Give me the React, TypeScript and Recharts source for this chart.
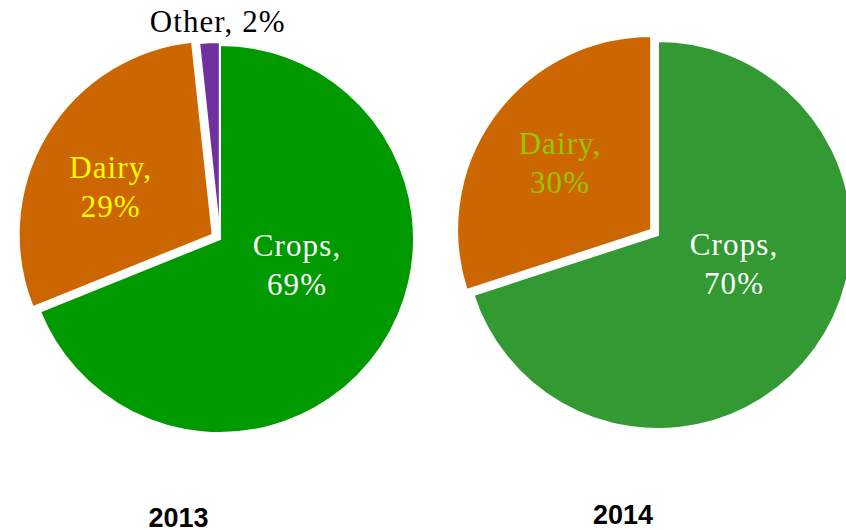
import React from 'react';
import { PieChart, Pie, Cell } from 'recharts';

// ---- data ----
const categories2013 = ['Crops', 'Dairy', 'Other'];
const values2013 = [68.9, 29.4, 1.7];
const categories2014 = ['Crops', 'Dairy'];
const values2014 = [70, 30];
const years = ['2013', '2014'];

// ---- styles ----
const W = 846;
const H = 530;
const R = 194;
const SERIF = '"Liberation Serif", "Times New Roman", serif';

const colors2013: Record<string, string> = { Crops: '#009900', Dairy: '#CC6600', Other: '#7030A0' };
const colors2014: Record<string, string> = { Crops: '#339933', Dairy: '#CC6600' };
const labelColors2013: Record<string, string> = { Crops: '#FFFFFF', Dairy: '#FFFF00', Other: '#000000' };
const labelColors2014: Record<string, string> = { Crops: '#FFFFFF', Dairy: '#96C800' };
const explode: Record<string, number> = { Crops: 0, Dairy: 8.5, Other: 3 };
const labelRadius: Record<string, number> = { Crops: 0.42, Dairy: 0.58, Other: 1.103 };
const labelShift2013: Record<string, number> = { Crops: 15, Dairy: 6, Other: -2.5 };
const labelShift2014: Record<string, number> = { Crops: 15, Dairy: 0 };
const outsideLabel: Record<string, boolean> = { Other: true };

const RAD = Math.PI / 180;

function makeLabel(sliceIndex: number, labelColors: Record<string, string>, shifts: Record<string, number>) {
  return (props: any) => {
    const { cx, cy, midAngle, outerRadius, index, name, value } = props;
    if (index !== sliceIndex) return null;
    const ang = (midAngle + (shifts[name] || 0)) * RAD;
    const d = (labelRadius[name] || 0.5) * outerRadius;
    const px = cx + d * Math.cos(ang);
    const py = cy - d * Math.sin(ang);
    const pct = `${Math.round(value)}%`;
    const common = {
      fill: labelColors[name],
      fontFamily: SERIF,
      fontSize: 31,
      letterSpacing: 1.1,
      textAnchor: 'middle' as const,
    };
    if (outsideLabel[name]) {
      return (
        <text key={`l-${name}`} x={px} y={py + 10} {...common}>
          {`${name}, ${pct}`}
        </text>
      );
    }
    return (
      <text key={`l-${name}`} x={px} y={py - 9.5} {...common}>
        <tspan x={px}>{`${name},`}</tspan>
        <tspan x={px} dy={39}>{pct}</tspan>
      </text>
    );
  };
}

function renderPieLayers(
  key: string,
  categories: string[],
  values: number[],
  colors: Record<string, string>,
  labelColors: Record<string, string>,
  shifts: Record<string, number>,
  baseCx: number,
  baseCy: number
) {
  const data = categories.map((c, i) => ({ name: c, value: values[i] }));
  const total = values.reduce((a, b) => a + b, 0);
  let cum = 0;
  return categories.map((cat, i) => {
    const mid = 90 - (360 * (cum + values[i] / 2)) / total;
    cum += values[i];
    const e = explode[cat] || 0;
    const cx = baseCx + e * Math.cos(mid * RAD);
    const cy = baseCy - e * Math.sin(mid * RAD);
    return (
      <Pie
        key={`${key}-${cat}`}
        data={data}
        dataKey="value"
        nameKey="name"
        cx={cx}
        cy={cy}
        innerRadius={0}
        outerRadius={R}
        startAngle={90}
        endAngle={-270}
        isAnimationActive={false}
        labelLine={false}
        label={makeLabel(i, labelColors, shifts)}
      >
        {data.map((d, j) => (
          <Cell
            key={`c-${j}`}
            fill={j === i ? colors[d.name] : 'transparent'}
            stroke={j === i ? '#FFFFFF' : 'none'}
            strokeWidth={j === i ? 2 : 0}
          />
        ))}
      </Pie>
    );
  });
}

export default function App() {
  return (
    <div style={{ position: 'fixed', left: 0, top: 0, width: W, height: H, background: '#FFFFFF' }}>
      <PieChart width={W} height={H} margin={{ top: 0, right: 0, bottom: 0, left: 0 }}>
        {renderPieLayers('p2013', categories2013, values2013, colors2013, labelColors2013, labelShift2013, 220, 239)}
        {renderPieLayers('p2014', categories2014, values2014, colors2014, labelColors2014, labelShift2014, 658, 235)}
        <text
          x={178.5}
          y={527}
          textAnchor="middle"
          fontFamily='"Liberation Sans", Arial, sans-serif'
          fontWeight="bold"
          fontSize={27}
          fill="#000000"
        >
          {years[0]}
        </text>
        <text
          x={623}
          y={524}
          textAnchor="middle"
          fontFamily='"Liberation Sans", Arial, sans-serif'
          fontWeight="bold"
          fontSize={27}
          fill="#000000"
        >
          {years[1]}
        </text>
      </PieChart>
    </div>
  );
}
